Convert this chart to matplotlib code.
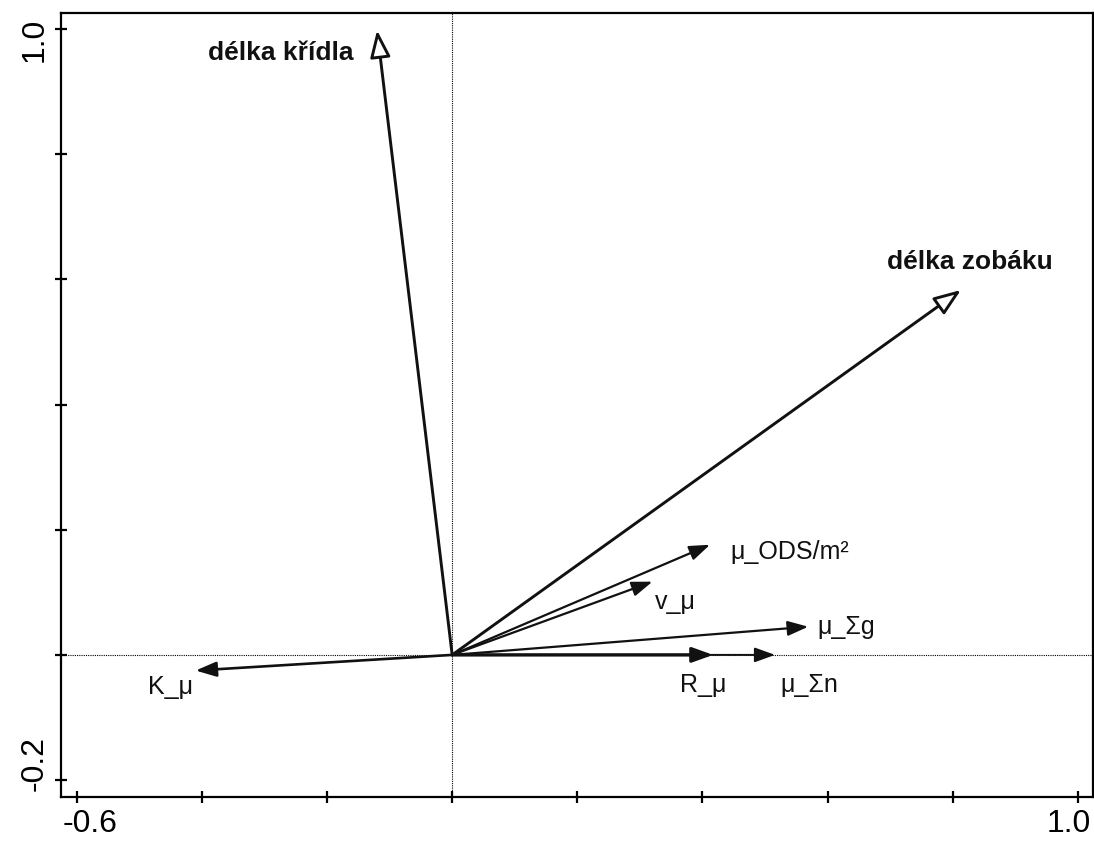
import matplotlib
matplotlib.use("Agg")
from matplotlib import pyplot as plt
from matplotlib.transforms import ScaledTranslation
import numpy as np

plt.rcParams['font.family'] = ['Liberation Sans', 'DejaVu Sans']

# Environmental variables (small arrows)
env_names = ['μ_ODS/m²', 'v_μ', 'μ_Σg', 'R_μ', 'μ_Σn', 'K_μ']
env_x = [0.412, 0.320, 0.569, 0.417, 0.516, -0.410]
env_y = [0.176, 0.117, 0.045, 0.000, 0.000, -0.025]
env_lw = [1.6, 1.6, 1.6, 2.4, 1.4, 1.9]
# label offsets in points from the arrow tip
env_off = [(14.5, -5), (2, -15), (6.5, 0), (-24, -21.5), (3.6, -21.5), (-34, -12)]

# Response variables (hollow arrows)
resp_names = ['délka křídla', 'délka zobáku']
resp_x = [-0.120, 0.813]
resp_y = [0.998, 0.583]
resp_off = [(-17, -16.5), (-53, 20)]
resp_ha = ['right', 'left']

fig = plt.figure(figsize=(10.94, 8.43), dpi=100)
ax = fig.add_axes([0.0558, 0.0546, 0.943, 0.930])
ax.set_xlim(-0.625, 1.0235)
ax.set_ylim(-0.227, 1.0256)

ax.axhline(0, color='black', lw=0.8, ls=(0, (1, 1)), zorder=1)
ax.axvline(0, color='black', lw=0.8, ls=(0, (1, 1)), zorder=1)

for name, x, y, lw, off in zip(env_names, env_x, env_y, env_lw, env_off):
    ax.annotate('', xy=(x, y), xytext=(0, 0),
                arrowprops=dict(arrowstyle='-|>,head_length=1.25,head_width=0.45',
                                mutation_scale=10, lw=lw, color='#111111',
                                shrinkA=0, shrinkB=0), zorder=3)
    ax.annotate(name, xy=(x, y), xytext=off, textcoords='offset points',
                ha='left', va='center', fontsize=18, color='#111111')

for name, x, y, off, ha in zip(resp_names, resp_x, resp_y, resp_off, resp_ha):
    ax.annotate('', xy=(x, y), xytext=(0, 0),
                arrowprops=dict(arrowstyle='-|>,head_length=1.65,head_width=0.62',
                                mutation_scale=10, lw=2.1, fc='white', ec='#111111',
                                shrinkA=0, shrinkB=0), zorder=4)
    ax.annotate(name, xy=(x, y), xytext=off, textcoords='offset points',
                ha=ha, va='center', fontsize=19, fontweight='bold',
                color='#111111')

ax.set_xticks(np.arange(-0.6, 1.01, 0.2))
ax.set_xticklabels(['-0.6', '', '', '', '', '', '', '', '1.0'])
ax.set_yticks(np.arange(-0.2, 1.01, 0.2))
ax.set_yticklabels(['-0.2', '', '', '', '', '', '1.0'], rotation=90, va='center')
ax.tick_params(direction='inout', length=9, width=1.6, labelsize=23, pad=4)

# keep the end labels inside the figure
xl = ax.get_xticklabels()
yl = ax.get_yticklabels()
shifts = [(xl[0], 9.5, 0), (xl[-1], -6.5, 0), (yl[0], 0, 12), (yl[-1], 0, -8)]
for lab, dx, dy in shifts:
    lab.set_transform(lab.get_transform() + ScaledTranslation(dx / 72, dy / 72, fig.dpi_scale_trans))

for s in ax.spines.values():
    s.set_linewidth(1.6)

fig.savefig('out.png', dpi=100)
